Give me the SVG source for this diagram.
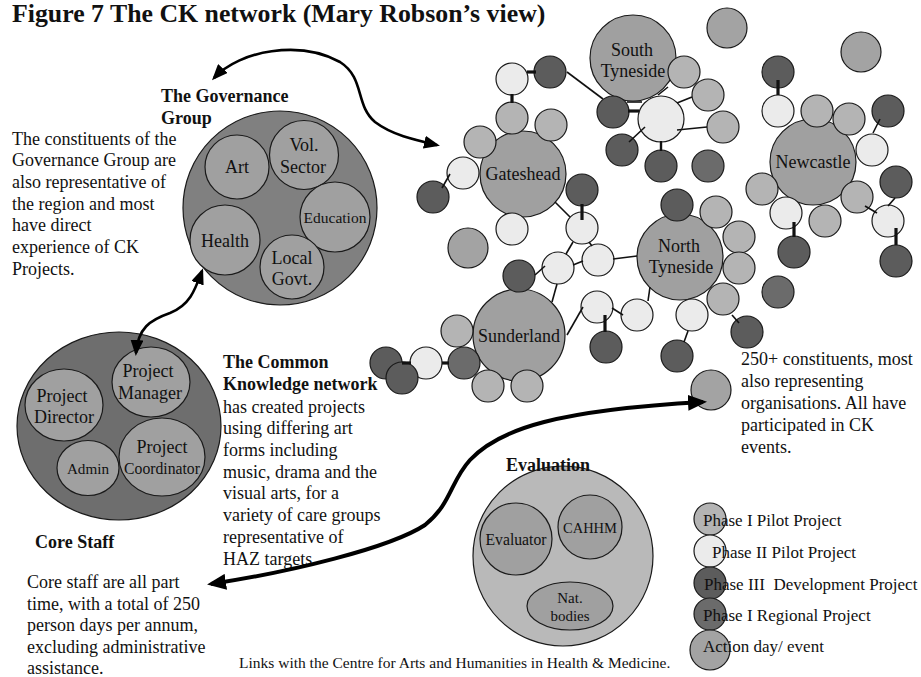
<svg xmlns="http://www.w3.org/2000/svg" width="921" height="677" viewBox="0 0 921 677">
<style>
  .t{font-family:"Liberation Serif","Times New Roman",serif;fill:#111;font-size:18px}
  .b{font-weight:bold}
  .c{text-anchor:middle}
  circle,ellipse{stroke:#1a1a1a;stroke-width:1.2}
  .city{fill:#a0a0a0}
  .p1{fill:#b4b4b4}
  .p2{fill:#ebebeb}
  .p3{fill:#5c5c5c}
  .reg{fill:#6b6b6b}
  .act{fill:#a3a3a3}
  .gov{fill:#808080}
  .core{fill:#6e6e6e}
  .eval{fill:#b9b9b9}
  .inner{fill:#a0a0a0}
  .ln{stroke:#111;stroke-width:1.6;fill:none}
  .lk{stroke:#111;stroke-width:3.2;fill:none}
  .arr{stroke:#000;stroke-width:2.6;fill:none;marker-start:url(#ah);marker-end:url(#ah)}
  .big{stroke:#000;stroke-width:4;fill:none;marker-start:url(#ahb);marker-end:url(#ahb)}
</style>
<defs>
  <marker id="ah" viewBox="0 0 16 13" refX="13" refY="6.5" markerWidth="16" markerHeight="13" markerUnits="userSpaceOnUse" orient="auto-start-reverse">
    <path d="M0,0 L16,6.5 L0,13 z" fill="#000"/>
  </marker>
  <marker id="ahb" viewBox="0 0 19 16" refX="15" refY="8" markerWidth="19" markerHeight="16" markerUnits="userSpaceOnUse" orient="auto-start-reverse">
    <path d="M0,0 L19,8 L0,16 z" fill="#000"/>
  </marker>
</defs>
<rect width="921" height="677" fill="#fff"/>

<!-- heading -->
<text class="t b" x="12" y="22" style="font-size:25.8px">Figure 7 The CK network (Mary Robson’s view)</text>

<!-- Governance group -->
<g id="governance">
  <text class="t b" x="161" y="102">The Governance</text>
  <text class="t b" x="161" y="124">Group</text>
  <circle class="gov" cx="280" cy="208" r="97"/>
  <g id="gov-art"><circle class="inner" cx="237" cy="167" r="32"/><text class="t c" x="237" y="173">Art</text></g>
  <g id="gov-vol"><circle class="inner" cx="304" cy="155" r="34.5"/><text class="t c" x="304" y="151">Vol.</text><text class="t c" x="303" y="173">Sector</text></g>
  <g id="gov-edu"><circle class="inner" cx="335" cy="217" r="35"/><text class="t c" x="335" y="223" style="font-size:15.5px">Education</text></g>
  <g id="gov-health"><circle class="inner" cx="225" cy="240" r="35"/><text class="t c" x="225" y="247">Health</text></g>
  <g id="gov-local"><circle class="inner" cx="292" cy="267" r="32"/><text class="t c" x="292" y="264">Local</text><text class="t c" x="292" y="285">Govt.</text></g>
</g>
<g id="gov-note">
  <text class="t" x="12" y="145">The constituents of the</text>
  <text class="t" x="12" y="166">Governance Group are</text>
  <text class="t" x="12" y="188">also representative of</text>
  <text class="t" x="12" y="210">the region and most</text>
  <text class="t" x="12" y="231">have direct</text>
  <text class="t" x="12" y="253">experience of CK</text>
  <text class="t" x="12" y="275">Projects.</text>
</g>

<!-- Core staff -->
<g id="core-staff">
  <ellipse class="core" cx="119" cy="426" rx="102" ry="94"/>
  <g id="core-pm"><ellipse class="inner" cx="151" cy="382" rx="39" ry="35"/><text class="t c" x="148" y="377">Project</text><text class="t c" x="150" y="399">Manager</text></g>
  <g id="core-pd"><ellipse class="inner" cx="64" cy="405" rx="39" ry="36"/><text class="t c" x="62" y="402">Project</text><text class="t c" x="64" y="423">Director</text></g>
  <g id="core-admin"><ellipse class="inner" cx="88" cy="468" rx="31" ry="27.5"/><text class="t c" x="88" y="474" style="font-size:15.2px">Admin</text></g>
  <g id="core-pc"><ellipse class="inner" cx="162" cy="457" rx="43" ry="39"/><text class="t c" x="162" y="453">Project</text><text class="t c" x="162" y="474" style="font-size:15.7px">Coordinator</text></g>
  <text class="t b" x="35" y="548">Core Staff</text>
</g>
<g id="core-note">
  <text class="t" x="27" y="588">Core staff are all part</text>
  <text class="t" x="27" y="610">time, with a total of 250</text>
  <text class="t" x="27" y="631">person days per annum,</text>
  <text class="t" x="27" y="653">excluding administrative</text>
  <text class="t" x="27" y="674">assistance.</text>
</g>

<!-- Common Knowledge description -->
<g id="ck-note">
  <text class="t b" x="223" y="368">The Common</text>
  <text class="t b" x="223" y="390">Knowledge network</text>
  <text class="t" x="223" y="413">has created projects</text>
  <text class="t" x="223" y="434">using differing art</text>
  <text class="t" x="223" y="456">forms including</text>
  <text class="t" x="223" y="478">music, drama and the</text>
  <text class="t" x="223" y="499">visual arts, for a</text>
  <text class="t" x="223" y="521">variety of care groups</text>
  <text class="t" x="223" y="543">representative of</text>
  <text class="t" x="223" y="565">HAZ targets</text>
</g>

<!-- Evaluation -->
<g id="evaluation">
  <circle class="eval" cx="563" cy="556" r="90"/>
  <text class="t b" x="506" y="471">Evaluation</text>
  <g id="eval-evaluator"><circle class="inner" cx="516" cy="539" r="36"/><text class="t c" x="516" y="545" style="font-size:15.7px">Evaluator</text></g>
  <g id="eval-cahhm"><circle class="inner" cx="590" cy="527" r="32"/><text class="t c" x="590" y="533" style="font-size:14.5px">CAHHM</text></g>
  <g id="eval-nat"><ellipse class="inner" cx="570" cy="606" rx="43" ry="24"/><text class="t c" x="570" y="603" style="font-size:15px">Nat.</text><text class="t c" x="570" y="621" style="font-size:15px">bodies</text></g>
</g>
<text class="t" x="239" y="668" style="font-size:15.5px">Links with the Centre for Arts and Humanities in Health &amp; Medicine.</text>

<!-- constituents note -->
<g id="constituents-note">
  <text class="t" x="741" y="365">250+ constituents, most</text>
  <text class="t" x="741" y="387">also representing</text>
  <text class="t" x="741" y="409">organisations. All have</text>
  <text class="t" x="741" y="431">participated in CK</text>
  <text class="t" x="741" y="453">events.</text>
</g>

<!-- network: area hubs -->
<g id="hub-south-tyneside"><circle class="city" cx="633" cy="58" r="43"/><text class="t c" x="632" y="56">South</text><text class="t c" x="633" y="77">Tyneside</text></g>
<g id="hub-gateshead"><circle class="city" cx="523" cy="174" r="43"/><text class="t c" x="523" y="180">Gateshead</text></g>
<g id="hub-north-tyneside"><circle class="city" cx="680" cy="257" r="43"/><text class="t c" x="679" y="252">North</text><text class="t c" x="681" y="273">Tyneside</text></g>
<g id="hub-newcastle"><circle class="city" cx="813" cy="162" r="43"/><text class="t c" x="813" y="168">Newcastle</text></g>
<g id="hub-sunderland"><circle class="city" cx="519" cy="335" r="46"/><text class="t c" x="519" y="342">Sunderland</text></g>

<!-- network: projects and events -->
<g id="a1"><circle class="act" cx="727" cy="28" r="20"/></g>
<g id="a2"><circle class="act" cx="861" cy="52" r="20"/></g>
<g id="a3"><circle class="act" cx="468" cy="248" r="20"/></g>
<g id="a4"><circle class="act" cx="711" cy="390" r="20"/></g>

<g id="p1-1"><circle class="p1" cx="512" cy="118" r="16"/></g>
<g id="p1-2"><circle class="p1" cx="551" cy="125" r="16"/></g>
<g id="p1-3"><circle class="p1" cx="480" cy="142" r="16"/></g>
<g id="p1-4"><circle class="p1" cx="684" cy="72" r="16"/></g>
<g id="p1-5"><circle class="p1" cx="708" cy="95" r="16"/></g>
<g id="p1-6"><circle class="p1" cx="723" cy="127" r="16"/></g>
<g id="p1-7"><circle class="p1" cx="716" cy="212" r="16"/></g>
<g id="p1-8"><circle class="p1" cx="739" cy="237" r="16"/></g>
<g id="p1-9"><circle class="p1" cx="739" cy="268" r="16"/></g>
<g id="p1-10"><circle class="p1" cx="723" cy="299" r="16"/></g>
<g id="p1-11"><circle class="p1" cx="457" cy="331" r="16"/></g>
<g id="p1-12"><circle class="p1" cx="488" cy="386" r="16"/></g>
<g id="p1-13"><circle class="p1" cx="527" cy="386" r="16"/></g>
<g id="p1-14"><circle class="p1" cx="817" cy="111" r="16"/></g>
<g id="p1-15"><circle class="p1" cx="849" cy="119" r="16"/></g>
<g id="p1-16"><circle class="p1" cx="762" cy="189" r="16"/></g>
<g id="p1-17"><circle class="p1" cx="825" cy="221" r="16"/></g>
<g id="p1-18"><circle class="p1" cx="857" cy="197" r="16"/></g>

<g id="p2-1"><circle class="p2" cx="512" cy="79" r="16"/></g>
<g id="p2-2"><circle class="p2" cx="463" cy="173" r="16"/></g>
<g id="p2-3"><circle class="p2" cx="582" cy="228" r="16"/></g>
<g id="p2-4"><circle class="p2" cx="512" cy="229" r="16"/></g>
<g id="p2-5"><circle class="p2" cx="558" cy="268" r="16"/></g>
<g id="p2-6"><circle class="p2" cx="598" cy="260" r="16"/></g>
<g id="p2-7"><circle class="p2" cx="597" cy="307" r="16"/></g>
<g id="p2-8"><circle class="p2" cx="637" cy="315" r="16"/></g>
<g id="p2-9"><circle class="p2" cx="692" cy="315" r="16"/></g>
<g id="p2-10"><circle class="p2" cx="426" cy="363" r="16"/></g>
<g id="p2-11"><circle class="p2" cx="778" cy="111" r="16"/></g>
<g id="p2-12"><circle class="p2" cx="872" cy="150" r="16"/></g>
<g id="p2-13"><circle class="p2" cx="786" cy="213" r="16"/></g>
<g id="p2-14"><circle class="p2" cx="888" cy="221" r="16"/></g>
<g id="p2-15"><circle class="p2" cx="661" cy="119" r="23"/></g>

<g id="p3-1"><circle class="p3" cx="550" cy="72" r="16"/></g>
<g id="p3-2"><circle class="p3" cx="433" cy="197" r="16"/></g>
<g id="p3-3"><circle class="p3" cx="582" cy="190" r="16"/></g>
<g id="p3-4"><circle class="p3" cx="613" cy="112" r="16"/></g>
<g id="p3-5"><circle class="p3" cx="622" cy="150" r="16"/></g>
<g id="p3-6"><circle class="p3" cx="661" cy="166" r="16"/></g>
<g id="p3-7"><circle class="p3" cx="677" cy="205" r="16"/></g>
<g id="p3-8"><circle class="p3" cx="747" cy="332" r="16"/></g>
<g id="p3-9"><circle class="p3" cx="677" cy="356" r="16"/></g>
<g id="p3-10"><circle class="p3" cx="519" cy="276" r="16"/></g>
<g id="p3-11"><circle class="p3" cx="606" cy="347" r="16"/></g>
<g id="p3-12"><circle class="p3" cx="386" cy="363" r="16"/></g>
<g id="p3-13"><circle class="p3" cx="402" cy="378" r="16"/></g>
<g id="p3-14"><circle class="p3" cx="778" cy="72" r="16"/></g>
<g id="p3-15"><circle class="p3" cx="888" cy="111" r="16"/></g>
<g id="p3-16"><circle class="p3" cx="896" cy="182" r="16"/></g>
<g id="p3-17"><circle class="p3" cx="794" cy="252" r="16"/></g>
<g id="p3-18"><circle class="p3" cx="896" cy="261" r="16"/></g>

<g id="reg-1"><circle class="reg" cx="708" cy="166" r="16"/></g>
<g id="reg-2"><circle class="reg" cx="778" cy="292" r="16"/></g>
<g id="reg-3"><circle class="reg" cx="464" cy="363" r="16"/></g>

<!-- links and arrows -->
<g id="connectors">
  <path class="ln" d="M567,72 L603,99"/>
  <path class="lk" d="M527,72 L536,72"/>
  <path class="lk" d="M512,94 L512,103"/>
  <path class="lk" d="M628,111 L639,111"/>
  <path class="ln" d="M627,102 L642,102"/>
  <path class="ln" d="M658,95 L668,87"/>
  <path class="ln" d="M677,103 L692,97"/>
  <path class="ln" d="M677,130 L707,127"/>
  <path class="ln" d="M629,142 L645,127"/>
  <path class="lk" d="M661,141 L661,151" style="stroke-width:2.4"/>
  <path class="ln" d="M442,188 L450,174"/>
  <path class="lk" d="M582,204 L582,220"/>
  <path class="ln" d="M555,202 L570,217"/>
  <path class="ln" d="M573,242 L566,254"/>
  <path class="ln" d="M589,242 L592,246"/>
  <path class="ln" d="M573,265 L583,261"/>
  <path class="ln" d="M613,259 L637,256"/>
  <path class="ln" d="M557,284 L552,302"/>
  <path class="ln" d="M535,275 L545,266"/>
  <path class="ln" d="M567,335 L583,307"/>
  <path class="ln" d="M612,308 L623,315"/>
  <path class="ln" d="M648,301 L650,287"/>
  <path class="lk" d="M605,315 L605,332"/>
  <path class="ln" d="M688,331 L684,342"/>
  <path class="ln" d="M732,315 L739,323"/>
  <path class="lk" d="M402,363 L411,363"/>
  <path class="lk" d="M442,363 L449,363"/>
  <path class="lk" d="M778,80 L778,95"/>
  <path class="ln" d="M880,119 L873,133"/>
  <path class="ln" d="M895,198 L888,206"/>
  <path class="ln" d="M865,206 L877,213"/>
  <path class="lk" d="M794,222 L794,237"/>
  <path class="lk" d="M896,228 L896,245"/>

  <path class="arr" d="M214,78 C240,50 300,40 340,62 C365,78 355,105 375,122 C392,135 415,140 437,145"/>
  <path class="arr" d="M202,271 C195,290 190,305 170,313 C150,320 138,328 136,353"/>
  <path class="big" d="M211,584 C290,572 390,548 425,525 C452,503 450,482 470,460 C500,428 560,410 703,402"/>
</g>

<!-- key -->
<g id="legend">
  <g id="key-p1"><circle class="p1" cx="710" cy="519" r="16"/><text class="t" x="703" y="526" style="font-size:17px">Phase I Pilot Project</text></g>
  <g id="key-p2"><circle class="p2" cx="710" cy="551" r="16"/><text class="t" x="712" y="558" style="font-size:17px">Phase II Pilot Project</text></g>
  <g id="key-p3"><circle class="p3" cx="710" cy="583" r="16"/><text class="t" x="704" y="590" style="font-size:17px">Phase III&#160; Development Project</text></g>
  <g id="key-reg"><circle class="reg" cx="710" cy="614" r="16"/><text class="t" x="703" y="621" style="font-size:17px">Phase I Regional Project</text></g>
  <g id="key-act"><circle class="act" cx="710" cy="650" r="20"/><text class="t" x="703" y="652" style="font-size:17px">Action day/ event</text></g>
</g>
</svg>
